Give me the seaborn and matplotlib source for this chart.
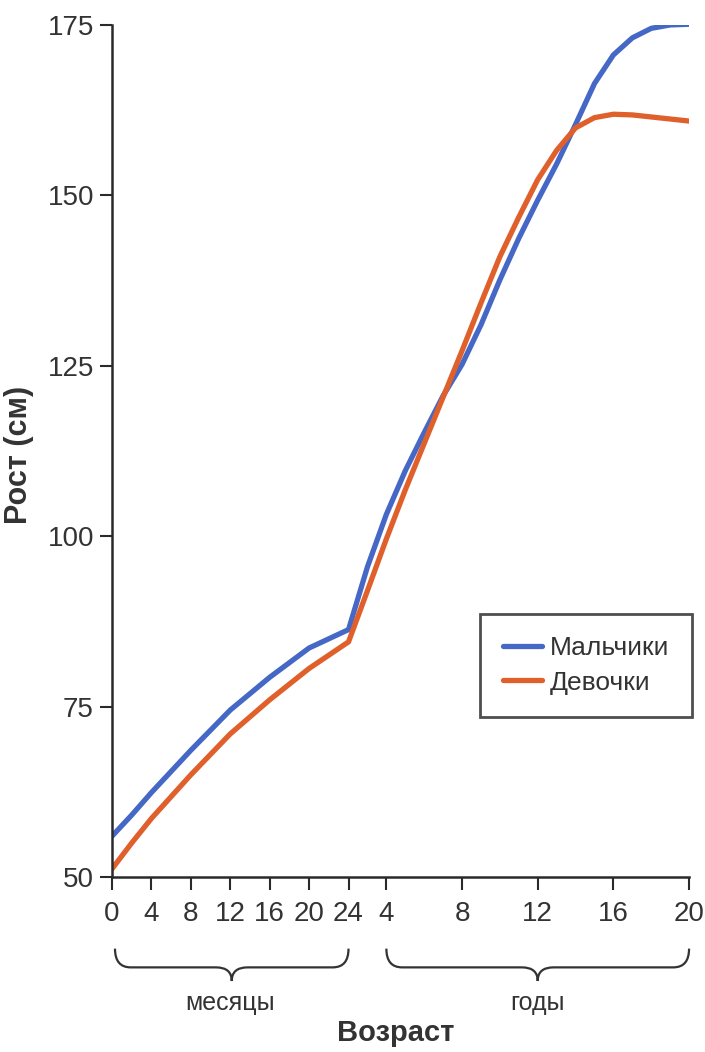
import pandas as pd
import matplotlib
matplotlib.use("Agg")
import matplotlib.pyplot as plt
import seaborn as sns
from matplotlib.path import Path
from matplotlib.patches import PathPatch

# Рост (см): первые 24 месяца, дальше по годам
months = [0, 2, 4, 8, 12, 16, 20, 24]
boys_months = [56.0, 59.1, 62.4, 68.6, 74.5, 79.3, 83.6, 86.3]
girls_months = [51.2, 55.0, 58.6, 65.0, 71.0, 76.0, 80.6, 84.5]

years = [3, 4, 5, 6, 7, 8, 9, 10, 11, 12, 13, 14, 15, 16, 17, 18, 19, 20]
boys_years = [95.5, 103.2, 109.6, 115.2, 120.6, 125.2, 131.0, 137.6, 143.7, 149.3,
              154.6, 160.4, 166.4, 170.6, 173.1, 174.5, 175.0, 175.1]
girls_years = [92.0, 99.6, 106.8, 113.6, 120.4, 127.2, 134.2, 141.0, 146.8, 152.3,
               156.6, 159.9, 161.4, 161.9, 161.8, 161.5, 161.2, 160.9]

month_ticks = [0, 4, 8, 12, 16, 20, 24]
year_ticks = [4, 8, 12, 16, 20]

labels = ["Мальчики", "Девочки"]
colors = {"Мальчики": "#4568c6", "Девочки": "#e0602c"}

YEAR_W = 1.92  # один год на оси = 1.92 "месяца"


def month_pos(m):
    return m


def year_pos(y):
    return 24 + (y - 2) * YEAR_W


def build_df():
    rows = []
    for m, b, g in zip(months, boys_months, girls_months):
        rows.append((month_pos(m), b, labels[0]))
        rows.append((month_pos(m), g, labels[1]))
    for y, b, g in zip(years, boys_years, girls_years):
        rows.append((year_pos(y), b, labels[0]))
        rows.append((year_pos(y), g, labels[1]))
    return pd.DataFrame(rows, columns=["pos", "height", "sex"])


# фигурная скобка под осью (x в данных, y в долях осей)
def brace(ax, x0, x1, y_top=-0.084, y_mid=-0.106, y_tip=-0.122, d=1.6):
    xm = (x0 + x1) / 2
    verts = [(x0, y_top), (x0, y_mid), (x0 + d, y_mid),
             (xm - d, y_mid), (xm, y_mid), (xm, y_tip),
             (xm, y_mid), (xm + d, y_mid),
             (x1 - d, y_mid), (x1, y_mid), (x1, y_top)]
    codes = [Path.MOVETO, Path.CURVE3, Path.CURVE3,
             Path.LINETO, Path.CURVE3, Path.CURVE3,
             Path.CURVE3, Path.CURVE3,
             Path.LINETO, Path.CURVE3, Path.CURVE3]
    patch = PathPatch(Path(verts, codes), transform=ax.get_xaxis_transform(),
                      fill=False, edgecolor="#333333", linewidth=1.6, clip_on=False)
    ax.add_patch(patch)


def main():
    sns.set_style("ticks")
    plt.rcParams['font.family'] = ['Liberation Sans', 'DejaVu Sans']

    df = build_df()
    fig = plt.figure(figsize=(7.05, 10.52), dpi=100)
    ax = fig.add_axes([0.1589, 0.1663, 0.8185, 0.81])

    sns.lineplot(data=df, x="pos", y="height", hue="sex", palette=colors,
                 hue_order=labels, linewidth=3.8, errorbar=None, ax=ax,
                 solid_capstyle="round", solid_joinstyle="round")

    ax.set_xlim(0, year_pos(20))
    ax.set_ylim(50, 175)
    ax.set_yticks([50, 75, 100, 125, 150, 175])

    tick_pos = [month_pos(m) for m in month_ticks] + [year_pos(y) for y in year_ticks]
    tick_lab = [str(m) for m in month_ticks] + [str(y) for y in year_ticks]
    ax.set_xticks(tick_pos)
    ax.set_xticklabels(tick_lab)

    for s in ["top", "right"]:
        ax.spines[s].set_visible(False)
    for s in ["left", "bottom"]:
        ax.spines[s].set_linewidth(1.8)
        ax.spines[s].set_color("#2a2a2a")
    ax.tick_params(axis="both", length=9, width=1.5, color="#2a2a2a",
                   labelsize=20, labelcolor="#333333")
    ax.tick_params(axis="y", pad=4)
    ax.tick_params(axis="x", pad=8)

    ax.set_ylabel("Рост (см)", fontsize=22, fontweight="bold", color="#333333")
    ax.yaxis.set_label_coords(-0.135, 0.495)
    ax.set_xlabel("Возраст", fontsize=21, fontweight="bold", color="#333333")
    ax.xaxis.set_label_coords(0.492, -0.166)

    brace(ax, month_pos(0.3), month_pos(24))
    brace(ax, year_pos(4), year_pos(20))
    ax.text(month_pos(12), -0.148, "месяцы", transform=ax.get_xaxis_transform(),
            ha="center", va="center", fontsize=18, color="#333333")
    ax.text(year_pos(12), -0.148, "годы", transform=ax.get_xaxis_transform(),
            ha="center", va="center", fontsize=18, color="#333333")

    handles, labs = ax.get_legend_handles_labels()
    leg = ax.legend(handles, labs, loc="upper left", bbox_to_anchor=(0.638, 0.309),
                    fontsize=19, frameon=True, fancybox=False, handlelength=1.5,
                    borderpad=0.85, labelspacing=0.4, handletextpad=0.3,
                    borderaxespad=0)
    leg.get_frame().set_edgecolor("#222222")
    leg.get_frame().set_linewidth(2.0)
    for t in leg.get_texts():
        t.set_color("#333333")

    fig.savefig("out.png", dpi=100)


if __name__ == "__main__":
    main()
